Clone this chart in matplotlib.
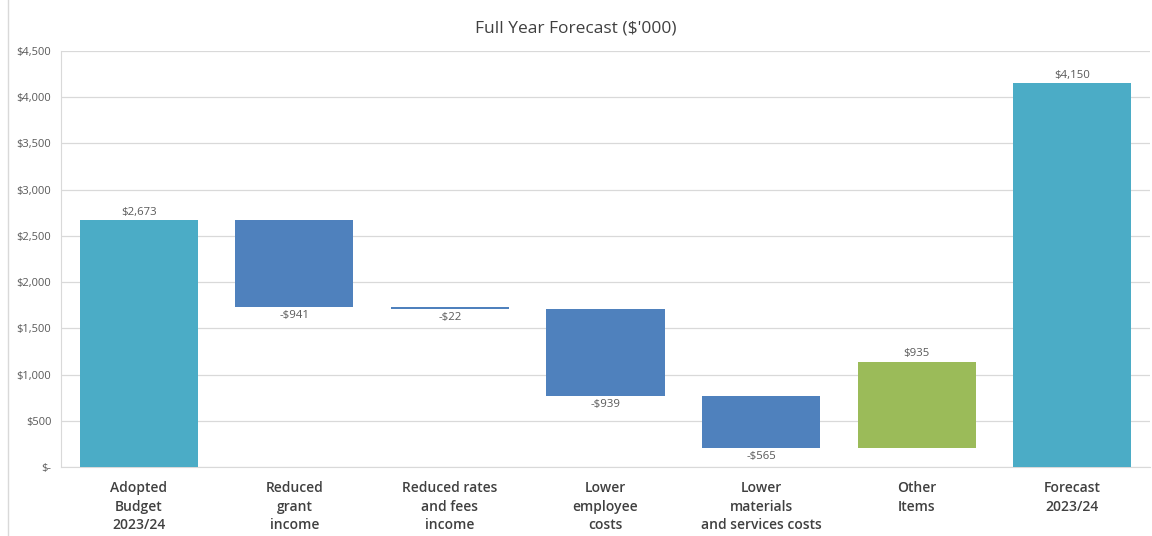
import matplotlib
matplotlib.use("Agg")
import matplotlib.pyplot as plt
from matplotlib.ticker import FuncFormatter
from matplotlib.lines import Line2D

categories = ["Adopted\nBudget\n2023/24", "Reduced\ngrant\nincome", "Reduced rates\nand fees\nincome",
              "Lower\nemployee\ncosts", "Lower\nmaterials\nand services costs", "Other\nItems", "Forecast\n2023/24"]
values = [2673, -941, -22, -939, -565, 935, 4150]
kinds = ["total", "delta", "delta", "delta", "delta", "delta", "total"]
y_ticks = [0, 500, 1000, 1500, 2000, 2500, 3000, 3500, 4000, 4500]

TEAL = "#4BACC6"
BLUE = "#4F81BD"
GREEN = "#9BBB59"

plt.rcParams['font.family'] = ['Open Sans', 'DejaVu Sans']

fig = plt.figure(figsize=(11.52, 5.36), dpi=100)
ax = fig.add_axes([61/1152, (536-467)/536, (1150-61)/1152, (467-51)/536])

running = 0
for i, (v, k) in enumerate(zip(values, kinds)):
    if k == "total":
        bottom, height, color = 0, v, TEAL
        running = v
        label_y, va = v, "bottom"
        txt = f"${v:,}"
    else:
        if v < 0:
            bottom, height, color = running + v, -v, BLUE
            label_y, va = running + v, "top"
            txt = f"-${-v:,}"
        else:
            bottom, height, color = running, v, GREEN
            label_y, va = running + v, "bottom"
            txt = f"${v:,}"
        running += v
    ax.bar(i, height, bottom=bottom, width=0.76, color=color, zorder=3)
    off = 1.5 if va == "bottom" else -2.5
    ax.annotate(txt, (i, label_y), xytext=(0, off), textcoords="offset points",
                ha="center", va=va, fontsize=8.2, color="#595959", zorder=4)

ax.set_xlim(-0.5, len(categories) - 0.5)
ax.set_ylim(0, 4500)
ax.set_yticks(y_ticks)
ax.yaxis.set_major_formatter(FuncFormatter(lambda x, p: "$-" if x == 0 else f"${int(x):,}"))
ax.grid(axis="y", color="#D9D9D9", linewidth=0.9, zorder=0)
ax.set_axisbelow(True)
for s in ["top", "right"]:
    ax.spines[s].set_visible(False)
ax.spines["left"].set_color("#D9D9D9")
ax.spines["bottom"].set_color("#D9D9D9")
ax.tick_params(axis="y", length=0, labelsize=8, labelcolor="#595959", pad=7)
ax.tick_params(axis="x", length=0, pad=10)
ax.set_xticks(range(len(categories)))
ax.set_xticklabels(categories, fontsize=10, color="#404040", fontweight="semibold", linespacing=1.42)

fig.text(0.5, 0.947, "Full Year Forecast ($'000)", ha="center", va="center", fontsize=12.5, color="#404040")
fig.add_artist(Line2D([8/1152, 8/1152], [0, 1], color="#D9D9D9", linewidth=1))

fig.savefig("out.png", dpi=100)
